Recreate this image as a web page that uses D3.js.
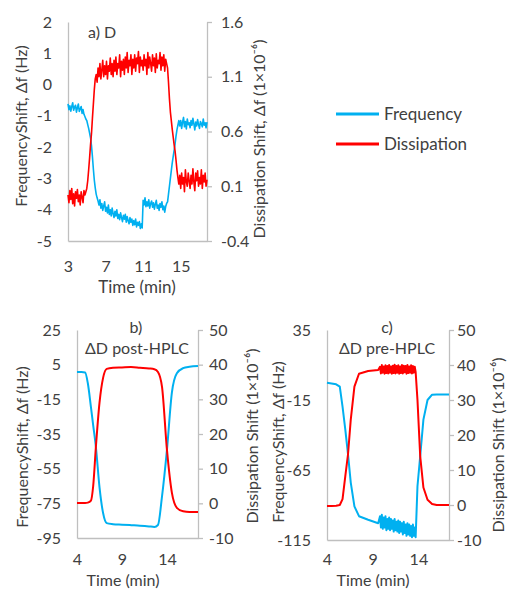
<!DOCTYPE html>
<html><head><meta charset="utf-8">
<script src="https://cdn.jsdelivr.net/npm/d3@7/dist/d3.min.js"></script>
<style>
body{margin:0;background:#fff}
text{font-family:Lato,"Open Sans",sans-serif;fill:#404040}
</style>
</head><body>
<svg id="chart" width="508" height="589"></svg>
<script>
// ---------- Panel a data (time grid 3.0 .. 17.8 min, every 0.1 min) ----------
const timeA = d3.range(0, 149).map(i => +(3 + i * 0.1).toFixed(1));
const freqA = [
 -0.62,-0.80,-0.68,-0.85,-0.70,-0.58,-0.82,-0.72,-0.66,-0.88,
 -0.74,-0.62,-0.86,-0.78,-0.70,-0.92,-0.80,-0.95,-1.02,-1.10,
 -1.15,-1.28,-1.40,-1.55,-1.70,-1.95,-2.30,-2.70,-3.05,-3.30,
 -3.50,-3.62,-3.72,-3.85,-3.68,-3.95,-3.80,-4.02,-3.88,-3.75,
 -4.05,-3.92,-4.10,-3.85,-4.15,-4.00,-4.20,-3.95,-4.12,-4.25,
 -4.05,-4.20,-4.00,-4.28,-4.15,-4.32,-4.10,-4.25,-4.38,-4.18,
 -4.30,-4.15,-4.40,-4.22,-4.35,-4.45,-4.25,-4.40,-4.30,-4.50,
 -4.35,-4.48,-4.30,-4.55,-4.40,-4.50,-4.38,-4.60,-4.45,-4.58,
 -3.70,-3.85,-3.62,-3.90,-3.75,-3.88,-3.68,-3.95,-3.80,-3.72,
 -3.92,-3.78,-3.98,-3.82,-3.70,-3.95,-3.85,-4.02,-3.80,-3.92,
 -3.75,-4.00,-3.88,-4.08,-3.90,-3.80,-3.75,-3.50,-3.25,-3.00,
 -2.75,-2.50,-2.30,-2.10,-1.90,-1.65,-1.45,-1.30,-1.15,-1.32,
 -1.15,-1.40,-1.20,-1.05,-1.35,-1.18,-1.42,-1.10,-1.28,-1.22,
 -1.38,-1.15,-1.30,-1.08,-1.25,-1.45,-1.20,-1.32,-1.12,-1.28,
 -1.40,-1.18,-1.25,-1.35,-1.10,-1.30,-1.22,-1.38,-1.20
];
const dissA = [
 0.02,-0.05,0.06,-0.02,0.08,-0.06,0.03,-0.08,0.05,-0.01,
 0.07,-0.04,0.02,-0.07,0.05,0.00,-0.05,0.06,0.02,0.05,
 0.08,0.15,0.25,0.36,0.48,0.58,0.72,0.85,0.98,1.08,
 1.12,1.05,1.18,1.10,1.22,1.08,1.16,1.25,1.10,1.20,
 1.12,1.24,1.08,1.20,1.15,1.27,1.12,1.22,1.10,1.25,
 1.15,1.28,1.12,1.22,1.18,1.30,1.10,1.24,1.16,1.26,
 1.12,1.28,1.18,1.32,1.14,1.25,1.20,1.30,1.12,1.26,
 1.18,1.30,1.15,1.27,1.22,1.33,1.14,1.28,1.20,1.25,
 1.16,1.30,1.20,1.26,1.12,1.32,1.18,1.28,1.22,1.15,
 1.30,1.20,1.27,1.14,1.31,1.18,1.25,1.22,1.32,1.16,
 1.28,1.20,1.30,1.15,1.26,1.22,1.18,1.05,0.90,0.78,
 0.70,0.62,0.55,0.48,0.42,0.34,0.25,0.18,0.12,0.20,
 0.08,0.22,0.12,0.18,0.05,0.25,0.14,0.10,0.22,0.15,
 0.08,0.20,0.12,0.26,0.14,0.06,0.22,0.15,0.24,0.10,
 0.18,0.12,0.25,0.08,0.20,0.14,0.22,0.10,0.16
];

// ---------- Panel b data ----------
const timeB = [4.0,4.5,4.9,5.2,5.55,5.8,6.1,6.5,6.9,7.3,8,9,10,11,12,12.6,13.0,13.45,14.0,14.55,15.1,15.8,16.5,17.45];
const freqB = [0.8,0.8,0.5,-5.6,-19.5,-30,-42.5,-65.6,-80.6,-86.4,-87,-87.3,-87.6,-87.9,-88.3,-88.6,-87.5,-71,-44,-11,0,3,3.8,4.2];
const dissB = [0.1,0.1,0.1,0.2,0.8,5,16.3,29,36.2,38.8,39.1,39.2,39.3,39.1,38.9,38.7,37.9,33.6,15.4,3,-1.3,-2.3,-2.5,-2.5];

// ---------- Panel c data ----------
const timeC = [4.0,4.5,5.0,5.4,5.7,6.0,6.3,6.6,7.0,7.5,8.5,9.6,
 9.8,9.9,10.0,10.1,10.2,10.3,10.4,10.5,10.6,10.7,
 10.8,10.9,11.0,11.1,11.2,11.3,11.4,11.5,11.6,11.7,
 11.8,11.9,12.0,12.1,12.2,12.3,12.4,12.5,12.6,12.7,
 12.8,12.9,13.0,13.1,13.2,13.3,13.4,13.5,13.6,13.7,
 13.9,14.2,14.55,15.0,15.5,16.0,17.35];
const freqC = [-2.7,-3.2,-3.8,-5.5,-19.7,-36,-53.8,-74,-91,-98,-100.5,-103,
 -98,-106,-97,-107,-99,-106,-98,-108,-100,-107,
 -99,-108,-100,-107,-101,-109,-100,-108,-102,-109,
 -101,-110,-102,-109,-103,-111,-102,-110,-104,-112,
 -103,-111,-104,-112,-105,-113,-104,-112,-106,-113,
 -76.6,-55,-29,-15,-11.2,-11,-11];
const dissC = [-0.3,-0.3,-0.2,0,1.7,8.2,14.5,24.4,33.8,37.5,38.3,38.6,
 39.5,37.6,40.0,37.8,39.6,37.5,39.9,37.7,39.7,37.6,
 40.0,37.8,39.6,37.5,39.8,37.7,40.1,37.6,39.7,37.8,
 39.9,37.5,39.6,37.7,40.0,37.6,39.8,37.9,39.7,37.5,
 40.0,37.7,39.6,37.8,39.9,37.6,39.7,37.8,39.5,38.0,
 30,13.9,5,1.5,0.3,0,0];

// ---------- tick labels ----------
const ticksAx = [3,7,11,15], ticksAl = [-5,-4,-3,-2,-1,0,1,2], ticksAr = [-0.4,0.1,0.6,1.1,1.6];
const ticksBx = [4,9,14], ticksBl = [-95,-75,-55,-35,-15,5,25], ticksBr = [-10,0,10,20,30,40,50];
const ticksCx = [4,9,14], ticksCl = [-115,-65,-15,35], ticksCr = [-10,0,10,20,30,40,50];

const seriesNames = ["Frequency","Dissipation"];
const BLUE = "#00b0f0", RED = "#ff0000", GRID = "#bfbfbf";
const fmtInt = d => String(d);
const fmt1 = d => d.toFixed(1);

const svg = d3.select("#chart");

function panel(o){
  const x = d3.scaleLinear().domain(o.xd).range([o.x0,o.x1]);
  const yl = d3.scaleLinear().domain(o.yld).range([o.yb,o.yt]);
  const yr = d3.scaleLinear().domain(o.yrd).range([o.yb,o.yt]);
  const g = svg.append("g");

  const ax = g.append("g").attr("transform",`translate(0,${o.yb})`)
    .call(d3.axisBottom(x).tickValues(o.tx).tickSize(0).tickPadding(o.xpad).tickFormat(fmtInt));
  const al = g.append("g").attr("transform",`translate(${o.x0},0)`)
    .call(d3.axisLeft(yl).tickValues(o.tl).tickSize(0).tickPadding(16).tickFormat(fmtInt));
  const ar = g.append("g").attr("transform",`translate(${o.x1},0)`)
    .call(d3.axisRight(yr).tickValues(o.tr).tickSize(5).tickSizeOuter(0).tickPadding(o.rpad).tickFormat(o.fr));
  [ax,al,ar].forEach(a=>{
    a.selectAll("path.domain").attr("stroke",GRID).attr("stroke-width",1.3);
    a.selectAll(".tick line").attr("stroke",GRID).attr("stroke-width",1.3);
    a.selectAll("text").style("font-family","Lato").style("font-size","16px").attr("fill","#404040");
  });

  const lineF = d3.line().x((d,i)=>x(o.t[i])).y(d=>yl(d)).curve(o.curve);
  const lineD = d3.line().x((d,i)=>x(o.t[i])).y(d=>yr(d)).curve(o.curve);
  g.append("path").datum(o.f).attr("d",lineF).attr("fill","none").attr("stroke",BLUE).attr("stroke-width",o.sw).attr("stroke-linejoin","round");
  g.append("path").datum(o.d).attr("d",lineD).attr("fill","none").attr("stroke",RED).attr("stroke-width",o.sw).attr("stroke-linejoin","round");

  // axis titles
  g.append("text").attr("transform",`translate(${o.ltx},${o.lty}) rotate(-90)`).attr("text-anchor","middle")
    .attr("dy","0.35em").style("font-size","16px").text("FrequencyShift, Δf (Hz)");
  g.append("text").attr("transform",`translate(${o.rtx},${o.rty}) rotate(-90)`).attr("text-anchor","middle")
    .attr("dy","0.35em").style("font-size","16px").text(o.rtitle);
  g.append("text").attr("x",o.xtx).attr("y",o.xty).attr("text-anchor","middle").attr("dy","0.35em")
    .style("font-size",o.xts).text("Time (min)");
  o.titles.forEach(t=>{
    g.append("text").attr("x",t.x).attr("y",t.y).attr("text-anchor",t.a).attr("dy","0.35em")
      .style("font-size","16px").text(t.s);
  });
}

panel({xd:[3,17.8], x0:68, x1:207, yld:[-5,2], yrd:[-0.4,1.6], yb:241, yt:22,
  tx:ticksAx, tl:ticksAl, tr:ticksAr, fr:fmt1,
  xpad:20, rpad:9, t:timeA, f:freqA, d:dissA, curve:d3.curveLinear, sw:1.6,
  ltx:21, lty:126, rtx:259, rty:139, rtitle:"Dissipation Shift, Δf (1×10⁻⁶)",
  xtx:137, xty:287, xts:"17px", titles:[{x:88,y:32,a:"start",s:"a) D"}]});

panel({xd:[4,17.45], x0:77, x1:198, yld:[-95,25], yrd:[-10,50], yb:538, yt:330,
  tx:ticksBx, tl:ticksBl, tr:ticksBr, fr:fmtInt,
  xpad:16, rpad:6, t:timeB, f:freqB, d:dissB, curve:d3.curveMonotoneX, sw:2,
  ltx:22, lty:447, rtx:252, rty:436, rtitle:"Dissipation Shift (1×10⁻⁶)",
  xtx:123, xty:580, xts:"16px", titles:[{x:136,y:327,a:"middle",s:"b)"},{x:137,y:348,a:"middle",s:"ΔD post-HPLC"}]});

panel({xd:[4,17.35], x0:327, x1:449, yld:[-115,35], yrd:[-10,50], yb:540, yt:330,
  tx:ticksCx, tl:ticksCl, tr:ticksCr, fr:fmtInt,
  xpad:14, rpad:3, t:timeC, f:freqC, d:dissC, curve:d3.curveLinear, sw:2,
  ltx:278, lty:442, rtx:498, rty:445, rtitle:"Dissipation Shift  (1×10⁻⁶)",
  xtx:373, xty:580, xts:"16px", titles:[{x:387,y:327,a:"middle",s:"c)"},{x:387,y:348,a:"middle",s:"ΔD pre-HPLC"}]});

// legend
const leg = svg.append("g");
seriesNames.forEach((n,i)=>{
  const y = 114 + i*30;
  leg.append("line").attr("x1",336).attr("x2",379).attr("y1",y).attr("y2",y)
    .attr("stroke", i===0?BLUE:RED).attr("stroke-width",3);
  leg.append("text").attr("x",384).attr("y",y).attr("dy","0.35em").style("font-size","17px").text(n);
});
</script>
</body></html>
